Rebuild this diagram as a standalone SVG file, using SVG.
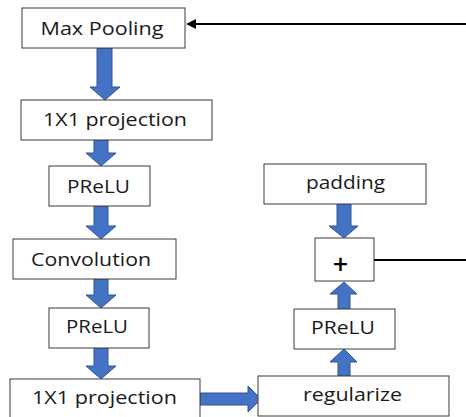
<svg xmlns="http://www.w3.org/2000/svg" width="466" height="417" viewBox="0 0 466 417">
<style>
.box{fill:#fff;stroke:#3a3a3a;stroke-width:1}
.t{font-family:"Open Sans","Liberation Sans",sans-serif;font-size:18px;fill:#1a1a1a;text-anchor:middle}
.plus{font-family:"Open Sans","Liberation Sans",sans-serif;font-size:27px;font-weight:600;fill:#000;text-anchor:middle}
.ba{fill:#4472C4;stroke:#2F5597;stroke-width:1}
.ln{stroke:#000;stroke-width:2;fill:none}
</style>
<g id="connectors">
<line class="ln" x1="466" y1="24" x2="195" y2="24"/>
<polygon points="186,24 196,19 196,29" fill="#000"/>
<line class="ln" x1="374" y1="260" x2="466" y2="260"/>
<polygon class="ba" points="97,48 112,48 112,87 120,87 105,100 90,87 97,87"/>
<polygon class="ba" points="94,140 108,140 108,153 116,153 101,166 86,153 94,153"/>
<polygon class="ba" points="94,206 108,206 108,226 116,226 101,239 86,226 94,226"/>
<polygon class="ba" points="94,279 108,279 108,295 116,295 101,308 86,295 94,295"/>
<polygon class="ba" points="94,348 108,348 108,366 116,366 101,379 86,366 94,366"/>
<polygon class="ba" points="200,393 248,393 248,386 261,399 248,412 248,405 200,405"/>
<polygon class="ba" points="338,376 350,376 350,362 357,362 344,349 330,362 338,362"/>
<polygon class="ba" points="338,309 350,309 350,294 357,294 344,282 330,294 338,294"/>
<polygon class="ba" points="337,204 351,204 351,226 358,226 344,238 329,226 337,226"/>
</g>
<g id="maxpool"><rect class="box" x="22" y="8" width="163" height="40"/><text class="t" x="102" y="35" textLength="123" lengthAdjust="spacingAndGlyphs">Max Pooling</text></g>
<g id="proj1"><rect class="box" x="21" y="100" width="191" height="40"/><text class="t" x="115" y="126" textLength="144" lengthAdjust="spacingAndGlyphs">1X1 projection</text></g>
<g id="prelu1"><rect class="box" x="49" y="166" width="101" height="40"/><text class="t" x="98.5" y="193" textLength="63" lengthAdjust="spacingAndGlyphs">PReLU</text></g>
<g id="conv"><rect class="box" x="13" y="239" width="163" height="40"/><text class="t" x="91" y="266" textLength="120" lengthAdjust="spacingAndGlyphs">Convolution</text></g>
<g id="prelu2"><rect class="box" x="49" y="308" width="100" height="40"/><text class="t" x="97" y="333" textLength="62" lengthAdjust="spacingAndGlyphs">PReLU</text></g>
<g id="proj2"><rect class="box" x="10" y="379" width="190" height="40"/><text class="t" x="104.5" y="404" textLength="145" lengthAdjust="spacingAndGlyphs">1X1 projection</text></g>
<g id="padding"><rect class="box" x="264" y="164" width="162" height="40"/><text class="t" x="345.5" y="189" textLength="79" lengthAdjust="spacingAndGlyphs">padding</text></g>
<g id="plus"><rect class="box" x="315" y="238" width="59" height="43"/><text class="plus" x="340.5" y="274">+</text></g>
<g id="prelu3"><rect class="box" x="294" y="309" width="101" height="40"/><text class="t" x="343" y="334" textLength="64" lengthAdjust="spacingAndGlyphs">PReLU</text></g>
<g id="regularize"><rect class="box" x="258" y="376" width="191" height="40"/><text class="t" x="352.5" y="401" textLength="99" lengthAdjust="spacingAndGlyphs">regularize</text></g>
</svg>
